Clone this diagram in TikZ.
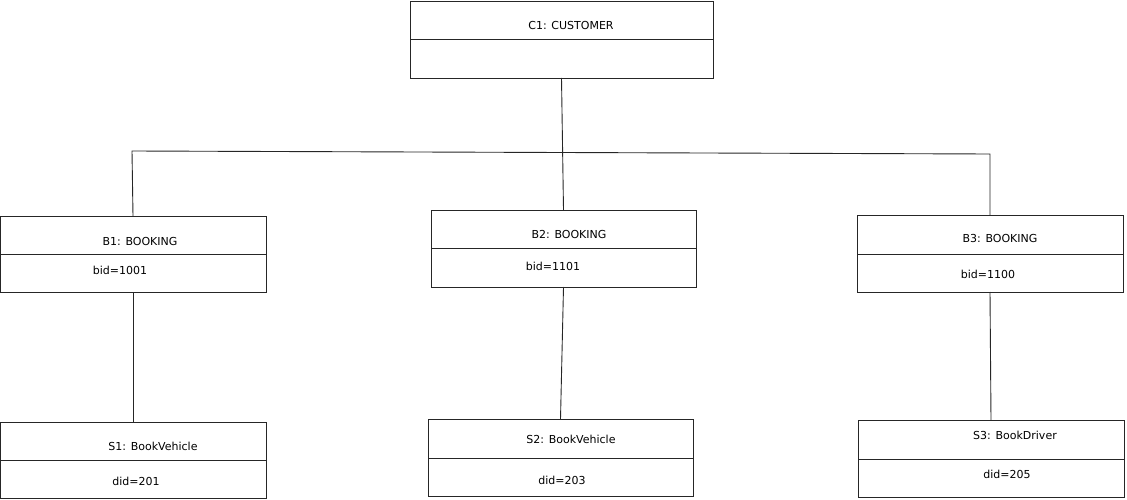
\documentclass[tikz,border=0pt]{standalone}
\usepackage{fontspec}
\setmainfont{DejaVu Sans}
\begin{document}
\begin{tikzpicture}[x=1pt,y=-1pt,
  box/.style={draw=black!85,line width=0.9pt,rectangle,inner sep=0pt,outer sep=0pt,anchor=north west},
  lbl/.style={font=\fontsize{11}{13}\selectfont,inner sep=0pt,text=black},
  conn/.style={draw=black!85,line width=0.9pt}]
\useasboundingbox (0,0) rectangle (1127,500);
% boxes
\node[box,minimum width=303pt,minimum height=77pt] (c1) at (410,1) {};
\node[box,minimum width=266pt,minimum height=76pt] (b1) at (0,216) {};
\node[box,minimum width=265pt,minimum height=77pt] (b2) at (431,210) {};
\node[box,minimum width=266pt,minimum height=77pt] (b3) at (857,215) {};
\node[box,minimum width=266pt,minimum height=76pt] (s1) at (0,422) {};
\node[box,minimum width=265pt,minimum height=77pt] (s2) at (428,419) {};
\node[box,minimum width=266pt,minimum height=77pt] (s3) at (858,420) {};
% dividers
\draw[conn] (410,39) -- (713,39);
\draw[conn] (0,254) -- (266,254);
\draw[conn] (431,248) -- (696,248);
\draw[conn] (857,254) -- (1123,254);
\draw[conn] (0,460) -- (266,460);
\draw[conn] (428,458) -- (693,458);
\draw[conn] (858,459) -- (1124,459);
% labels
\node[lbl] (c1t) at (571,25) {C1: CUSTOMER};
\node[lbl] (b1t) at (140,241) {B1: BOOKING};
\node[lbl] (b1a) at (120,270) {bid=1001};
\node[lbl] (b2t) at (569,234) {B2: BOOKING};
\node[lbl] (b2a) at (553,266) {bid=1101};
\node[lbl] (b3t) at (1000,238) {B3: BOOKING};
\node[lbl] (b3a) at (988,274) {bid=1100};
\node[lbl] (s1t) at (153,446) {S1: BookVehicle};
\node[lbl] (s1a) at (136,481) {did=201};
\node[lbl] (s2t) at (571,439) {S2: BookVehicle};
\node[lbl] (s2a) at (562,480) {did=203};
\node[lbl] (s3t) at (1015,435) {S3: BookDriver};
\node[lbl] (s3a) at (1007,474) {did=205};
% connectors
\coordinate (hl) at (132,151);
\coordinate (hr) at (990,154);
\draw[conn] (c1.south) -- (b2.north);
\draw[conn] (b1.north) -- (hl) -- (hr) -- (b3.north);
\draw[conn] (b1.south) -- (s1.north);
\draw[conn] (b2.south) -- (s2.north);
\draw[conn] (b3.south) -- (s3.north);
\end{tikzpicture}
\end{document}
